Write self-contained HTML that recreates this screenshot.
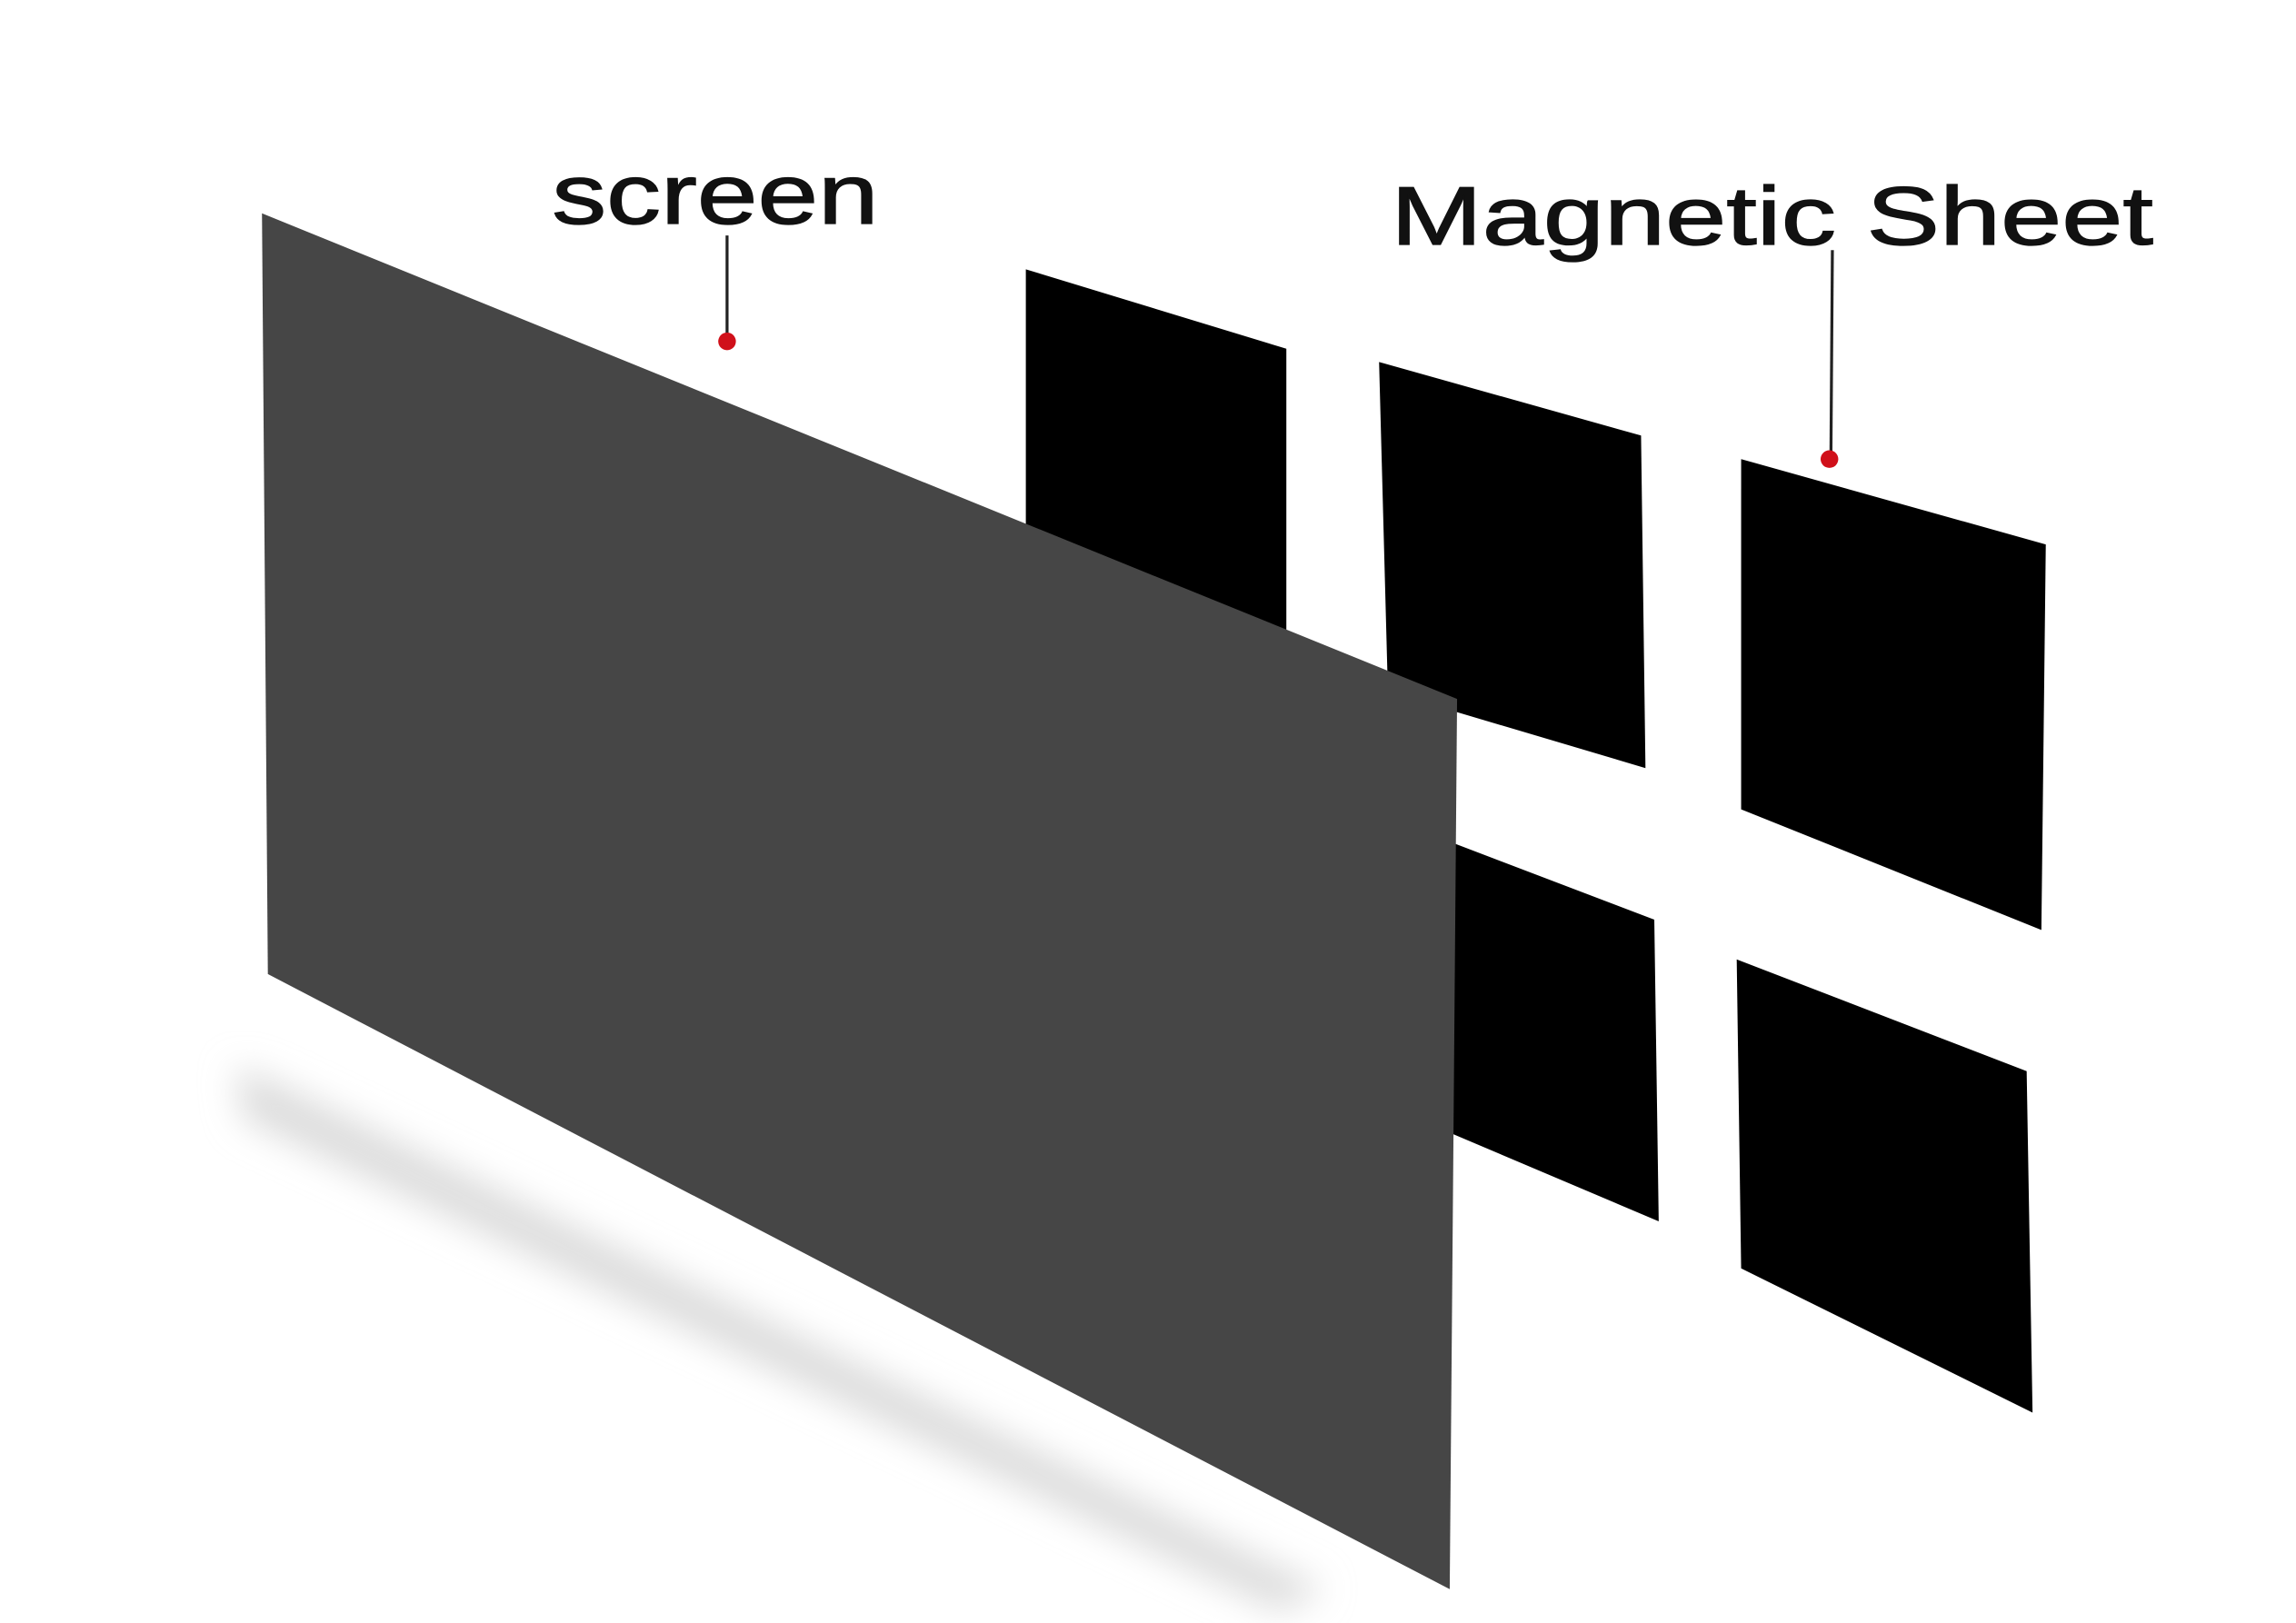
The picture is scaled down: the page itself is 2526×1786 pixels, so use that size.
<!DOCTYPE html>
<html><head><meta charset="utf-8"><style>
html,body{margin:0;padding:0;background:#fff;width:2526px;height:1786px;overflow:hidden}
svg{display:block}
</style></head><body>
<svg width="2526" height="1786" viewBox="0 0 1560 1103" preserveAspectRatio="none">
<defs>
<filter id="bl"><feGaussianBlur stdDeviation="12"/></filter>
</defs>
<rect width="1560" height="1103" fill="#fff"/>
<polygon points="160,725 185,735 900,1080 870,1095 165,760" fill="#dcdcdc" filter="url(#bl)"/>
<polygon points="697,183 874,237 874,600 697,540" fill="#000"/>
<polygon points="937,246 1115,296 1118,522 943,470" fill="#000"/>
<polygon points="1183,312 1390,370 1387,632 1183,550" fill="#000"/>
<polygon points="943,556 1124,625 1127,830 943,752" fill="#000"/>
<polygon points="1180,652 1377,728 1381,960 1183,862" fill="#000"/>
<polygon points="178,145 990,475 985,1080 182,662" fill="#464646"/>
<text x="375" y="152" font-family="Liberation Sans, sans-serif" font-size="58" textLength="222" lengthAdjust="spacingAndGlyphs" fill="#111" stroke="#111" stroke-width="0.8">screen</text>
<line x1="494" y1="160" x2="494" y2="232" stroke="#222" stroke-width="2"/>
<circle cx="494" cy="232" r="6" fill="#d0101a"/>
<text x="945" y="166" font-family="Liberation Sans, sans-serif" font-size="56" textLength="518" lengthAdjust="spacingAndGlyphs" fill="#111" stroke="#111" stroke-width="0.8">Magnetic Sheet</text>
<line x1="1245" y1="170" x2="1244" y2="311" stroke="#222" stroke-width="2"/>
<circle cx="1243" cy="312" r="6" fill="#d0101a"/>
</svg>
</body></html>
